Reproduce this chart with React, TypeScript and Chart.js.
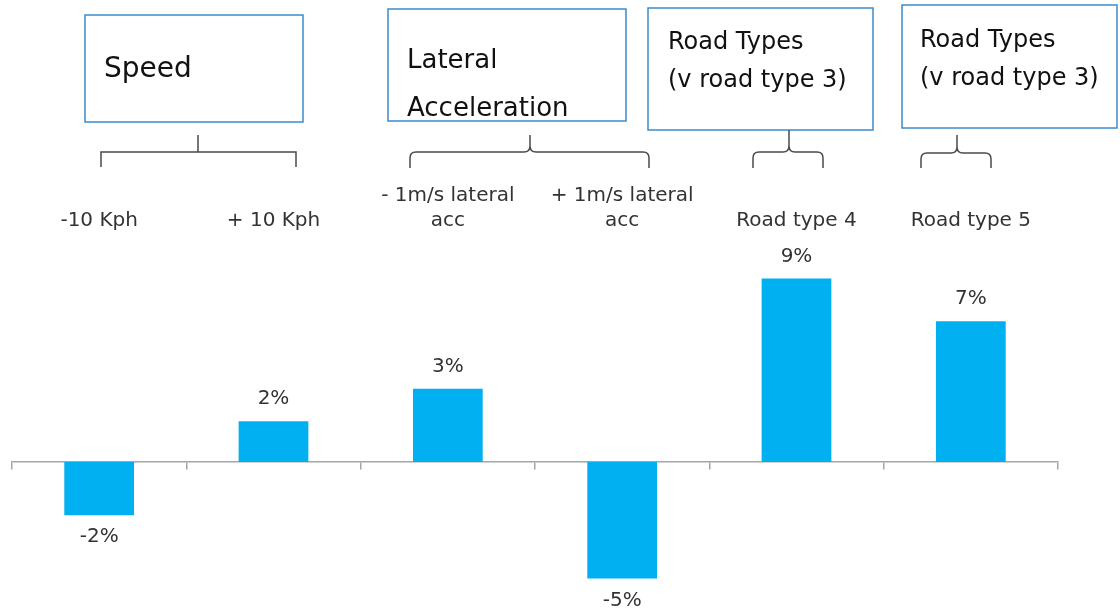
import React, { useEffect, useRef } from 'react';
import { Chart, registerables } from 'chart.js';

Chart.register(...registerables);

// ---- data ----
const categories: (string | string[])[] = [
  '-10 Kph',
  '+ 10 Kph',
  ['- 1m/s lateral', 'acc'],
  ['+ 1m/s lateral', 'acc'],
  'Road type 4',
  'Road type 5',
];
const values = [-2.6, 2.0, 3.6, -5.7, 9.0, 6.9];
const valueLabels = ['-2%', '2%', '3%', '-5%', '9%', '7%'];
const yMin = -7;
const yMax = 10;

const FONT = '"DejaVu Sans", Verdana, sans-serif';
const TEXT_COLOR = '#333333';
const BAR_COLOR = '#00B0F0';
const BOX_COLOR = '#3D8BCD';
const BRACKET_COLOR = '#4a4a4a';

const dataLabelPlugin = {
  id: 'dataLabels',
  afterDatasetsDraw(chart: any) {
    const ctx = chart.ctx;
    const meta = chart.getDatasetMeta(0);
    ctx.save();
    ctx.font = `20px ${FONT}`;
    ctx.fillStyle = TEXT_COLOR;
    ctx.textAlign = 'center';
    ctx.textBaseline = 'middle';
    meta.data.forEach((el: any, i: number) => {
      const v = values[i];
      const y = v >= 0 ? el.y - 22 : el.y + 22;
      ctx.fillText(valueLabels[i], el.x, y);
    });
    ctx.restore();
  },
};

function drawCurly(ctx: CanvasRenderingContext2D, x1: number, x2: number, xc: number, yLine: number, yLeg: number, yTop: number) {
  const r = 6;
  ctx.beginPath();
  ctx.moveTo(x1, yLeg);
  ctx.lineTo(x1, yLine + r);
  ctx.quadraticCurveTo(x1, yLine, x1 + r, yLine);
  ctx.lineTo(xc - r, yLine);
  ctx.quadraticCurveTo(xc, yLine, xc, yLine - r);
  ctx.lineTo(xc, yTop);
  ctx.moveTo(xc, yLine - r);
  ctx.quadraticCurveTo(xc, yLine, xc + r, yLine);
  ctx.lineTo(x2 - r, yLine);
  ctx.quadraticCurveTo(x2, yLine, x2, yLine + r);
  ctx.lineTo(x2, yLeg);
  ctx.stroke();
}

const annotationPlugin = {
  id: 'groupAnnotations',
  afterDraw(chart: any) {
    const ctx: CanvasRenderingContext2D = chart.ctx;
    ctx.save();
    // boxes
    ctx.strokeStyle = BOX_COLOR;
    ctx.lineWidth = 1.5;
    ctx.strokeRect(85, 15, 218, 107);
    ctx.strokeRect(388, 9, 238, 112);
    ctx.strokeRect(648, 8, 225, 122);
    ctx.strokeRect(902, 5, 215, 123);

    // box text
    ctx.fillStyle = '#111111';
    ctx.textAlign = 'left';
    ctx.textBaseline = 'alphabetic';
    ctx.font = `28px ${FONT}`;
    ctx.fillText('Speed', 104, 77);
    ctx.font = `26px ${FONT}`;
    ctx.fillText('Lateral', 407, 68);
    ctx.fillText('Acceleration', 407, 116);
    ctx.font = `24px ${FONT}`;
    ctx.fillText('Road Types', 668, 49);
    ctx.fillText('(v road type 3)', 668, 87);
    ctx.fillText('Road Types', 920, 47);
    ctx.fillText('(v road type 3)', 920, 85);

    // brackets
    ctx.strokeStyle = BRACKET_COLOR;
    ctx.lineWidth = 1.5;
    ctx.beginPath();
    ctx.moveTo(198, 135);
    ctx.lineTo(198, 152);
    ctx.moveTo(101, 167);
    ctx.lineTo(101, 152);
    ctx.lineTo(296, 152);
    ctx.lineTo(296, 167);
    ctx.stroke();

    drawCurly(ctx, 410, 649, 530, 152, 168, 135);
    drawCurly(ctx, 753, 823, 789, 152, 168, 130);
    drawCurly(ctx, 921, 991, 957, 153, 168, 135);
    ctx.restore();
  },
};

export default function App() {
  const canvasRef = useRef<HTMLCanvasElement | null>(null);

  useEffect(() => {
    if (!canvasRef.current) return;
    const chart = new Chart(canvasRef.current, {
      type: 'bar',
      data: {
        labels: categories as any,
        datasets: [
          {
            data: values,
            backgroundColor: BAR_COLOR,
            borderWidth: 0,
            barPercentage: 0.4,
            categoryPercentage: 1,
            xAxisID: 'x',
            yAxisID: 'y',
          },
        ],
      },
      options: {
        animation: false,
        responsive: true,
        maintainAspectRatio: false,
        layout: { padding: { top: 158, bottom: 6, left: 12, right: 62 } },
        plugins: {
          legend: { display: false },
          tooltip: { enabled: false },
          title: { display: false },
        },
        scales: {
          x: {
            type: 'category',
            position: { y: 0 } as any,
            offset: true,
            grid: {
              offset: true,
              drawOnChartArea: false,
              drawTicks: true,
              tickLength: 7,
              color: '#a6a6a6',
              lineWidth: 1.5,
            },
            border: { display: true, color: '#a6a6a6', width: 1.5 },
            ticks: { display: false },
          },
          xTop: {
            type: 'category',
            position: 'top',
            offset: true,
            grid: { display: false, drawTicks: false, offset: true },
            border: { display: false },
            ticks: {
              display: true,
              padding: 25,
              color: TEXT_COLOR,
              font: { family: FONT, size: 20, lineHeight: 1.25 },
              maxRotation: 0,
              autoSkip: false,
            },
          },
          y: {
            type: 'linear',
            display: false,
            min: yMin,
            max: yMax,
          },
        },
      },
      plugins: [dataLabelPlugin, annotationPlugin],
    });
    return () => chart.destroy();
  }, []);

  return (
    <div style={{ position: 'absolute', left: 0, top: 0, width: 1120, height: 611, background: '#ffffff' }}>
      <canvas ref={canvasRef} />
    </div>
  );
}
